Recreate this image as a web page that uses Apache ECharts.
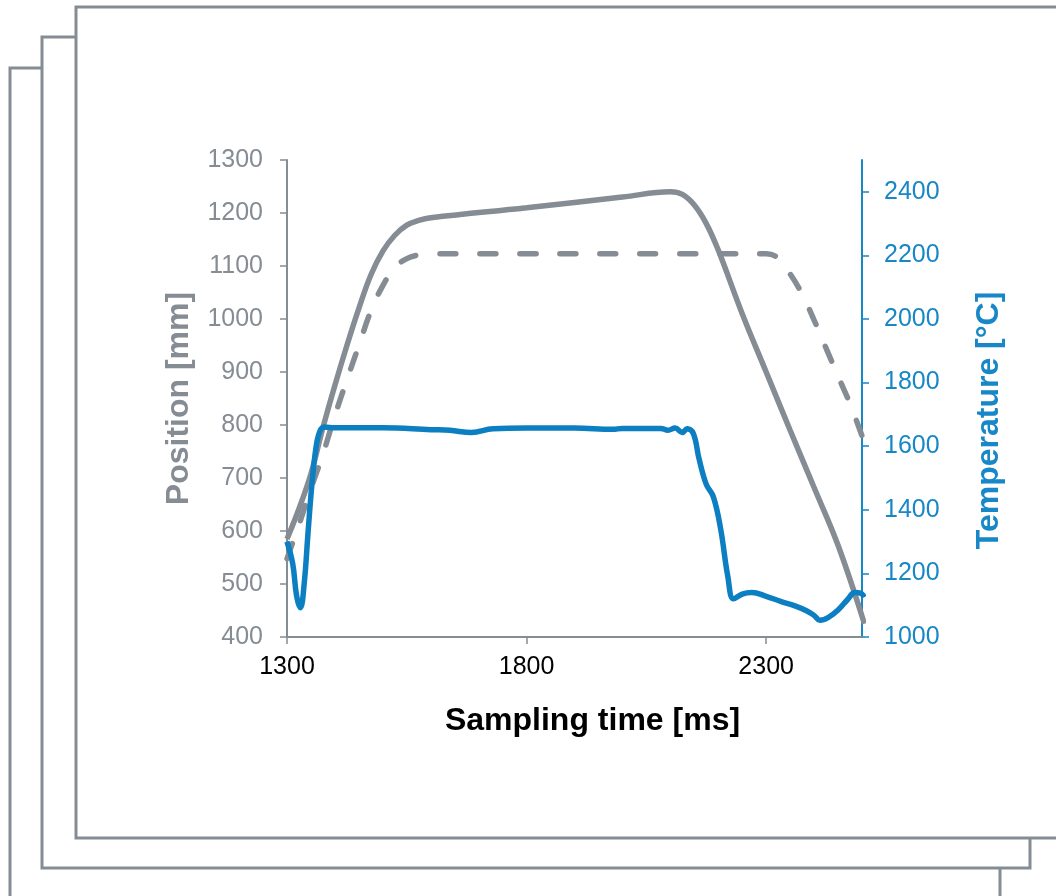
<!DOCTYPE html>
<html>
<head>
<meta charset="utf-8">
<script src="https://cdn.jsdelivr.net/npm/echarts@6/dist/echarts.min.js"></script>
<style>
  html, body { margin: 0; padding: 0; background: #fff; }
  #chart { width: 1056px; height: 896px; }
</style>
</head>
<body>
<div id="chart"></div>
<script>
// 数据
const xTicks = [1300, 1800, 2300];
const posTicks = [400, 500, 600, 700, 800, 900, 1000, 1100, 1200, 1300];
const tempTicks = [1000, 1200, 1400, 1600, 1800, 2000, 2200, 2400];

// 实际位置 (实线)
const posTime = [1300, 1325, 1350, 1375, 1400, 1425, 1450, 1475, 1500, 1525, 1550, 1575, 1600,
  1800, 2000, 2100, 2125, 2150, 2175, 2200, 2250, 2300, 2350, 2400, 2450, 2505];
const position = [585, 642, 708, 795, 875, 950, 1020, 1083, 1128, 1158, 1177, 1186, 1191,
  1210, 1230, 1240, 1235, 1215, 1180, 1130, 1010, 900, 790, 682, 573, 425];

// 设定位置 (虚线)
const setTime = [1300, 1325, 1350, 1375, 1400, 1425, 1450, 1475, 1500, 1525, 1550, 1575, 1600,
  2300, 2325, 2350, 2375, 2400, 2425, 2450, 2475, 2503];
const setPosition = [548, 612, 680, 745, 818, 885, 950, 1015, 1063, 1097, 1114, 1121, 1123,
  1123, 1115, 1085, 1047, 998, 945, 892, 840, 772];

// 温度
const tempTime = [1300, 1312, 1320, 1328, 1336, 1344, 1352, 1360, 1368, 1378, 1400, 1500,
  1600, 1640, 1685, 1730, 1800, 1900, 1980, 2000, 2080, 2095, 2110, 2125, 2135, 2148,
  2160, 2175, 2190, 2205, 2220, 2232, 2250, 2270, 2300, 2330, 2360, 2385, 2400, 2412,
  2430, 2450, 2470, 2485, 2497, 2505];
const temperature = [1300, 1230, 1130, 1092, 1170, 1330, 1480, 1590, 1645, 1660, 1658, 1658,
  1652, 1650, 1643, 1655, 1657, 1657, 1653, 1656, 1656, 1650, 1657, 1643, 1655, 1640,
  1560, 1480, 1440, 1340, 1190, 1120, 1135, 1140, 1128, 1112, 1098, 1082, 1068, 1053,
  1062, 1085, 1118, 1140, 1138, 1125];

const GRAY = '#858c94';
const BLUE = '#0b7fc1';
const BLUE_AXIS = '#1787c7';
const FONT = "'Liberation Sans', Arial, sans-serif";

function zip(xs, ys) {
    return xs.map((x, i) => [x, ys[i]]);
}

// 背景的叠放页框
function frame(x, y, w, h) {
    return {
        type: 'rect',
        z: -10,
        shape: { x: x, y: y, width: w, height: h },
        style: { fill: '#fff', stroke: GRAY, lineWidth: 3 }
    };
}

const plain = v => String(v);

const chart = echarts.init(document.getElementById('chart'));

const option = {
    backgroundColor: '#fff',
    animation: false,
    graphic: [
        frame(10, 68, 990, 900),
        frame(42, 37, 988, 831),
        frame(76, 7, 1000, 831)
    ],
    grid: { left: 287, right: 194, top: 160, bottom: 259 },
    xAxis: {
        type: 'value',
        min: 1300,
        max: 2500,
        name: 'Sampling time [ms]',
        nameLocation: 'middle',
        nameGap: 68,
        nameTextStyle: {
            color: '#000', fontSize: 32, fontWeight: 'bold', fontFamily: FONT,
            padding: [0, 0, 0, 36]
        },
        axisLine: { lineStyle: { color: GRAY, width: 2 } },
        axisTick: { show: true, length: 7, customValues: xTicks, lineStyle: { color: GRAY, width: 1.5 } },
        axisLabel: { customValues: xTicks, formatter: plain, color: '#000', fontSize: 25, fontFamily: FONT, margin: 18 },
        splitLine: { show: false }
    },
    yAxis: [
        {
            type: 'value',
            position: 'left',
            min: 400,
            max: 1300,
            interval: 100,
            name: 'Position [mm]',
            nameLocation: 'middle',
            nameGap: 92,
            nameTextStyle: { color: GRAY, fontSize: 32, fontWeight: 'bold', fontFamily: FONT },
            axisLine: { show: true, lineStyle: { color: GRAY, width: 2 } },
            axisTick: { show: true, length: 7, customValues: posTicks, lineStyle: { color: GRAY, width: 1.5 } },
            axisLabel: { customValues: posTicks, formatter: plain, color: GRAY, fontSize: 25, fontFamily: FONT, margin: 24 },
            splitLine: { show: false }
        },
        {
            type: 'value',
            position: 'right',
            min: 1000,
            max: 2500,
            interval: 200,
            name: 'Temperature [°C]',
            nameLocation: 'middle',
            nameGap: 111,
            nameTextStyle: {
                color: BLUE_AXIS, fontSize: 32, fontWeight: 'bold', fontFamily: FONT,
                padding: [0, 44, 0, 0]
            },
            axisLine: { show: true, lineStyle: { color: BLUE_AXIS, width: 2 } },
            axisTick: { show: true, length: 7, customValues: tempTicks, lineStyle: { color: BLUE_AXIS, width: 1.5 } },
            axisLabel: { customValues: tempTicks, formatter: plain, color: BLUE_AXIS, fontSize: 25, fontFamily: FONT, margin: 22 },
            splitLine: { show: false }
        }
    ],
    series: [
        {
            type: 'line',
            yAxisIndex: 0,
            data: zip(setTime, setPosition),
            showSymbol: false,
            smooth: 0.4,
            lineStyle: { color: GRAY, width: 5.5, type: [16, 24], cap: 'round' }
        },
        {
            type: 'line',
            yAxisIndex: 0,
            data: zip(posTime, position),
            showSymbol: false,
            smooth: 0.4,
            lineStyle: { color: GRAY, width: 5.5 }
        },
        {
            type: 'line',
            yAxisIndex: 1,
            data: zip(tempTime, temperature),
            showSymbol: false,
            smooth: 0.4,
            lineStyle: { color: BLUE, width: 5.5 }
        }
    ]
};

chart.setOption(option);
</script>
</body>
</html>
